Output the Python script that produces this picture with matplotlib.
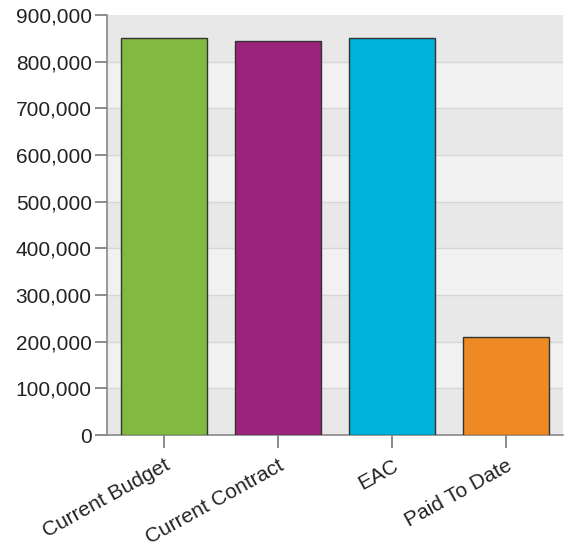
import matplotlib.pyplot as plt
from matplotlib.ticker import FuncFormatter

# Chart data
categories = ["Current Budget", "Current Contract", "EAC", "Paid To Date"]
values = [850000, 844000, 850000, 211000]
bar_colors = ["#82b941", "#9a247b", "#00b1da", "#ee8924"]
y_ticks = list(range(0, 900001, 100000))

plt.rcParams["font.family"] = ["Liberation Sans", "DejaVu Sans"]

fig = plt.figure(figsize=(5.69, 5.50), dpi=100)
ax = fig.add_axes([0.188, 0.209, 0.8015, 0.7637])

# Alternating background bands
for i in range(len(y_ticks) - 1):
    band = "#e8e8e8" if i % 2 == 0 else "#f1f1f1"
    ax.axhspan(y_ticks[i], y_ticks[i + 1], color=band, zorder=0, lw=0)
for y in y_ticks[1:-1]:
    ax.axhline(y, color="#d6d6d6", lw=1, zorder=1)

x = range(len(categories))
ax.bar(x, values, width=0.755, color=bar_colors, edgecolor="#333333",
       linewidth=1, zorder=3)

ax.set_xlim(-0.5, len(categories) - 0.5)
ax.set_ylim(0, 900000)
ax.set_yticks(y_ticks)
ax.yaxis.set_major_formatter(FuncFormatter(lambda v, p: f"{int(v):,}"))
ax.set_xticks(list(x))
ax.set_xticklabels(categories, rotation=29, ha="right", rotation_mode="anchor")

for side in ["top", "right"]:
    ax.spines[side].set_visible(False)
for side in ["left", "bottom"]:
    ax.spines[side].set_color("#888888")
    ax.spines[side].set_linewidth(1.2)

ax.tick_params(axis="both", colors="#777777", labelcolor="#222222",
               length=9, width=1.2, labelsize=15)
ax.tick_params(axis="y", pad=2)
ax.tick_params(axis="x", pad=6)

fig.savefig("out.png", dpi=100)
